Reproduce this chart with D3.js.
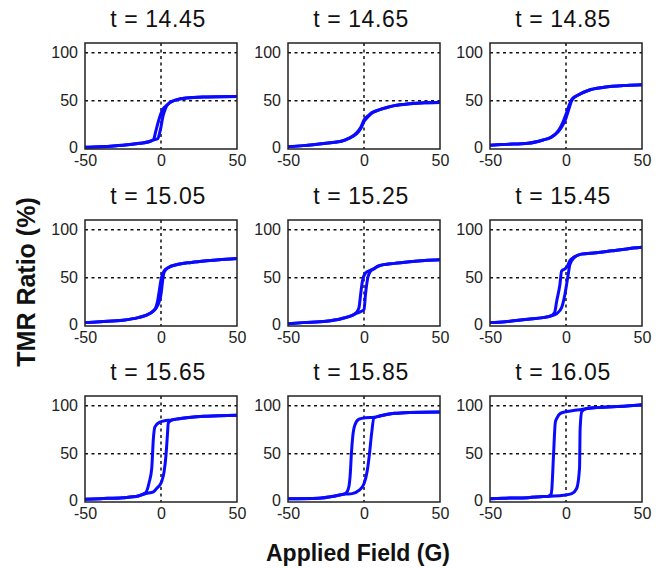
<!DOCTYPE html>
<html>
<head>
<meta charset="utf-8">
<script src="https://cdn.jsdelivr.net/npm/d3@7"></script>
<style>
  body { margin: 0; background: #fff; }
  svg { font-family: "Liberation Sans", Arial, sans-serif; }
</style>
</head>
<body>
<div id="chart"></div>
<script>
// panel titles (thickness t)
const temps = ["14.45", "14.65", "14.85", "15.05", "15.25", "15.45", "15.65", "15.85", "16.05"];
const fieldTicks = [-50, 0, 50];
const tmrTicks = [0, 50, 100];

// [applied field (G), TMR (%)] — sweepUp: -50 -> 50, sweepDown: 50 -> -50
const up1445 = [[-50,1.7],[-40,2.4],[-25,4],[-14,6],[-8,7.5],[-5,9.4],[-2,11],[-1,16],[0,23],[1.3,34],[2.5,40],[3.5,44],[5.7,48],[10,51],[16.6,53],[30,54],[50,54.5]];
const down1445 = [[-50,1.7],[-40,2.4],[-25,4],[-14,6],[-8,7.5],[-5,9.4],[-3.5,18],[-2,27],[0,37],[1.5,42],[3.5,45],[5.7,48],[10,51],[16.6,53],[30,54],[50,54.5]];

const up1465 = [[-50,2.4],[-40,3.5],[-25,6],[-15,8],[-10,11],[-5,15.6],[-2,21.5],[0,28.5],[3,34],[5,37],[10,40.6],[15,43],[20,45],[30,47],[40,48],[50,48.3]];
const down1465 = [[-50,2.4],[-40,3.5],[-25,6],[-15,8],[-10,11],[-5,16.5],[-2,23],[0,30],[3,35],[5,37.5],[10,40.6],[15,43],[20,45],[30,47],[40,48],[50,48.3]];

const up1485 = [[-50,4],[-40,4.8],[-25,6],[-15,9.4],[-10,12],[-5,18],[-2,25],[0,32],[2,42],[4,51],[8,56],[15,61],[25,64],[40,66],[50,66.7]];
const down1485 = [[-50,4],[-40,4.8],[-25,6],[-15,9.4],[-10,12],[-5,19],[-2,28],[0,36],[2,45],[4,52],[8,56],[15,61],[25,64],[40,66],[50,66.7]];

const up1505 = [[-50,3.5],[-40,4.5],[-25,6],[-15,8.7],[-10,11],[-5,15.6],[-3,19],[-1,26],[0,33],[1,46],[2,55.6],[5,60.8],[10,63.5],[20,66],[30,67.7],[40,69],[50,70]];
const down1505 = [[-50,3.5],[-40,4.5],[-25,6],[-15,8.7],[-10,11],[-5,15.6],[-3,21],[-2,28],[-1,38],[0,48],[1,54],[2,57],[5,60.8],[10,63.5],[20,66],[30,67.7],[40,69],[50,70]];

const up1525 = [[-50,2.4],[-40,3.5],[-25,5],[-15,7.6],[-10,9.7],[-5,13],[-2,15],[0,17],[1,33],[2.5,50],[4.3,57],[6,59],[10,62.5],[20,65],[30,66.7],[40,68],[50,68.7]];
const down1525 = [[-50,2.4],[-40,3.5],[-25,5],[-15,7.6],[-10,9.7],[-5,14],[-3.3,19],[-2.2,33],[-1,47],[1,55],[3,57],[6,59],[10,62.5],[20,65],[30,66.7],[40,68],[50,68.7]];

const up1545 = [[-50,3.5],[-40,4.5],[-25,7],[-15,8.7],[-10,10.4],[-6,13],[-2.9,19],[-0.7,33],[1.1,50],[2.6,64],[4.8,70],[10,74.6],[20,76],[30,78],[40,80],[50,81.6]];
const down1545 = [[-50,3.5],[-40,4.5],[-25,7],[-15,8.7],[-10,10.4],[-7.5,14],[-6.1,26],[-4,43],[-2.9,57],[-1,59],[0.5,61],[2.6,68],[4.8,71],[10,74.6],[20,76],[30,78],[40,80],[50,81.6]];

const up1565 = [[-50,2.8],[-40,3.5],[-25,4.5],[-15,6.2],[-10,8.7],[-5,10.5],[-2.9,14],[0.4,21],[2,31],[3.3,49],[4.2,69],[4.8,82],[7,85],[10,86],[20,88],[30,89],[50,90]];
const down1565 = [[-50,2.8],[-40,3.5],[-25,4.5],[-15,6.2],[-11.5,8.5],[-9.9,10],[-7.7,21],[-6.1,35],[-5,66],[-4,78],[-0.7,83],[3,84.5],[7,85],[10,86],[20,88],[30,89],[50,90]];

const up1585 = [[-50,3.5],[-30,4],[-20,6],[-15,7.6],[-12,8.2],[-7.8,8.7],[-3.3,12],[0,19],[2.2,33],[3.6,50],[5,71],[6.5,87],[9.8,89],[20,92],[30,93],[50,93.5]];
const down1585 = [[-50,3.5],[-30,4],[-20,6],[-15,7.6],[-11.8,9.4],[-10,15.6],[-9,30],[-8.3,50],[-7.4,68],[-6,80],[-3.3,86],[1,87.5],[6.5,88],[9.8,89],[20,92],[30,93],[50,93.5]];

const up1605 = [[-50,3.5],[-40,4],[-25,4.5],[-15,5.6],[-10,6],[-1.5,7],[3.8,8.7],[7,14],[8.9,35],[9.3,76],[10.4,94],[13.7,97],[20,98],[40,99.6],[50,101]];
const down1605 = [[-50,3.5],[-40,4],[-25,4.5],[-15,5.6],[-12,5.8],[-9.8,8],[-9.3,14],[-8.2,49],[-7,83],[-6,87],[-3.7,92],[0.7,94],[5,95],[10.4,96],[13.7,97],[20,98],[40,99.6],[50,101]];

const sweepUp = [up1445, up1465, up1485, up1505, up1525, up1545, up1565, up1585, up1605];
const sweepDown = [down1445, down1465, down1485, down1505, down1525, down1545, down1565, down1585, down1605];

const width = 665;
const height = 568;
const panelW = 152;
const panelH = 106;
const colLeft = [85, 288, 490];
const rowTop = [43, 220, 396];

const svg = d3.select("#chart")
  .append("svg")
  .attr("width", width)
  .attr("height", height);

const x = d3.scaleLinear().domain([-50, 50]).range([0, panelW]);
const y = d3.scaleLinear().domain([0, 110]).range([panelH, 0]);

const line = d3.line()
  .x(d => x(d[0]))
  .y(d => y(d[1]))
  .curve(d3.curveMonotoneX);

temps.forEach((t, i) => {
  const col = i % 3;
  const row = Math.floor(i / 3);
  const g = svg.append("g")
    .attr("transform", `translate(${colLeft[col]},${rowTop[row]})`);

  // title
  g.append("text")
    .attr("x", panelW / 2 - 3)
    .attr("y", -16)
    .attr("text-anchor", "middle")
    .attr("font-size", 23)
    .attr("letter-spacing", 0.6)
    .attr("fill", "#111")
    .text(`t = ${t}`);

  // dashed grid
  g.selectAll(".hgrid")
    .data(tmrTicks.filter(v => v > 0))
    .join("line")
    .attr("x1", 0).attr("x2", panelW)
    .attr("y1", d => y(d)).attr("y2", d => y(d))
    .attr("stroke", "#111")
    .attr("stroke-width", 1.5)
    .attr("stroke-dasharray", "3,3.5");

  g.append("line")
    .attr("x1", x(0)).attr("x2", x(0))
    .attr("y1", 0).attr("y2", panelH)
    .attr("stroke", "#111")
    .attr("stroke-width", 1.5)
    .attr("stroke-dasharray", "3,3.5");

  // curves
  [sweepUp[i], sweepDown[i]].forEach(branch => {
    g.append("path")
      .datum(branch)
      .attr("fill", "none")
      .attr("stroke", "#0a0aff")
      .attr("stroke-width", 3)
      .attr("stroke-linejoin", "round")
      .attr("d", line);
  });

  // frame
  g.append("rect")
    .attr("width", panelW)
    .attr("height", panelH)
    .attr("fill", "none")
    .attr("stroke", "#222")
    .attr("stroke-width", 1.5);

  // axes (labels only)
  const yAxis = g.append("g")
    .call(d3.axisLeft(y).tickValues(tmrTicks).tickSize(0).tickPadding(7)
      .tickFormat(d => String(d)));
  const xAxis = g.append("g")
    .attr("transform", `translate(0,${panelH})`)
    .call(d3.axisBottom(x).tickValues(fieldTicks).tickSize(0).tickPadding(6)
      .tickFormat(d => String(d)));

  [yAxis, xAxis].forEach(a => {
    a.select(".domain").remove();
    a.selectAll("text")
      .attr("font-size", 16)
      .attr("font-family", "Liberation Sans, Arial, sans-serif")
      .attr("fill", "#222");
  });
  yAxis.selectAll("text").filter(d => d === 0).attr("dy", "0.2em");
});

// axis titles
svg.append("text")
  .attr("transform", `translate(35,282) rotate(-90)`)
  .attr("text-anchor", "middle")
  .attr("font-size", 25)
  .attr("font-weight", "bold")
  .attr("fill", "#111")
  .text("TMR Ratio (%)");

svg.append("text")
  .attr("x", 358)
  .attr("y", 561)
  .attr("text-anchor", "middle")
  .attr("font-size", 23)
  .attr("font-weight", "bold")
  .attr("fill", "#111")
  .text("Applied Field (G)");
</script>
</body>
</html>
